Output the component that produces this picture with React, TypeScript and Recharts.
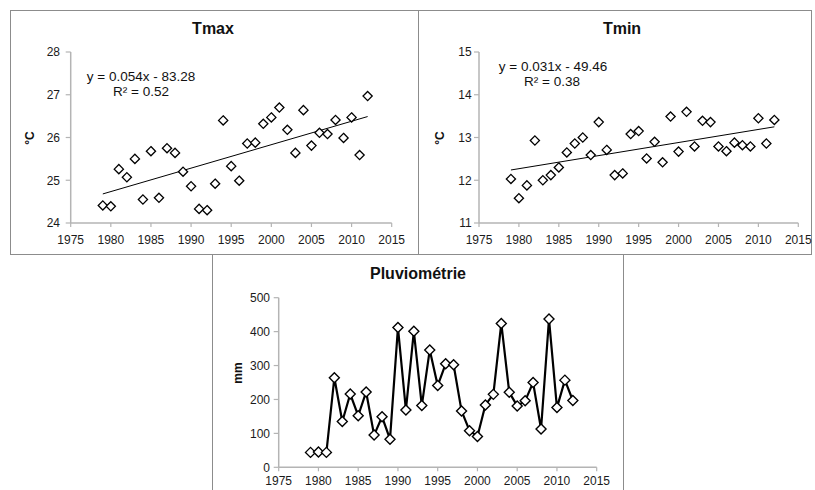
import React from "react";
import {
  ScatterChart,
  Scatter,
  ComposedChart,
  Line,
  XAxis,
  YAxis,
  ReferenceLine,
} from "recharts";

const years = [
  1979, 1980, 1981, 1982, 1983, 1984, 1985, 1986, 1987, 1988, 1989, 1990,
  1991, 1992, 1993, 1994, 1995, 1996, 1997, 1998, 1999, 2000, 2001, 2002,
  2003, 2004, 2005, 2006, 2007, 2008, 2009, 2010, 2011, 2012,
];
const tmax = [
  24.41, 24.39, 25.26, 25.07, 25.5, 24.55, 25.68, 24.59, 25.75, 25.64, 25.2,
  24.86, 24.33, 24.3, 24.92, 26.4, 25.33, 24.99, 25.86, 25.88, 26.32, 26.47,
  26.7, 26.18, 25.64, 26.64, 25.81, 26.11, 26.08, 26.41, 25.99, 26.47, 25.59,
  26.97,
];
const tmin = [
  12.03, 11.58, 11.88, 12.93, 12.0, 12.12, 12.3, 12.65, 12.86, 13.0, 12.59,
  13.36, 12.71, 12.12, 12.16, 13.08, 13.15, 12.51, 12.9, 12.42, 13.49, 12.67,
  13.6, 12.79, 13.39, 13.36, 12.79, 12.68, 12.88, 12.82, 12.79, 13.45, 12.86,
  13.41,
];
const pluie = [
  44, 45, 44, 264, 135, 216, 152, 222, 95, 149, 83, 412, 169, 401, 182, 346,
  241, 305, 302, 166, 108, 91, 184, 215, 424, 221, 181, 196, 250, 113, 437, 176,
  257, 197,
];
const trendYears = [1979, 2012];
const tmaxTrend = [24.68, 26.49];
const tminTrend = [12.24, 13.25];

const xTicks = [1975, 1980, 1985, 1990, 1995, 2000, 2005, 2010, 2015];
const tmaxTicks = [24, 25, 26, 27, 28];
const tminTicks = [11, 12, 13, 14, 15];
const pluieTicks = [0, 100, 200, 300, 400, 500];

const FONT = "'Liberation Sans', Arial, sans-serif";
const AXIS = "#b4b4b4";
const BORDER = "#8c8c8c";

const tmaxData = years.map((y, i) => ({ year: y, v: tmax[i] }));
const tminData = years.map((y, i) => ({ year: y, v: tmin[i] }));
const pluieData = years.map((y, i) => ({ year: y, v: pluie[i] }));

const Diamond = (props: any) => {
  const { cx, cy } = props;
  if (cx == null || cy == null) return null;
  const r = 4.6;
  return (
    <polygon
      points={`${cx},${cy - r} ${cx + r},${cy} ${cx},${cy + r} ${cx - r},${cy}`}
      fill="#fff"
      stroke="#000"
      strokeWidth={1.3}
    />
  );
};

const LineDiamond = (props: any) => {
  const { cx, cy, index } = props;
  if (cx == null || cy == null) return null;
  const r = 5;
  return (
    <polygon
      key={`d${index}`}
      points={`${cx},${cy - r} ${cx + r},${cy} ${cx},${cy + r} ${cx - r},${cy}`}
      fill="#fff"
      stroke="#000"
      strokeWidth={1.4}
    />
  );
};

const tickStyle = { fill: "#1a1a1a", fontSize: 12, fontFamily: FONT };

const Text = ({
  x,
  y,
  children,
  size = 12,
  bold = false,
  rotate = false,
}: any) => (
  <div
    style={{
      position: "absolute",
      left: x,
      top: y,
      transform: `translate(-50%, -50%)${rotate ? " rotate(-90deg)" : ""}`,
      fontFamily: FONT,
      fontSize: size,
      fontWeight: bold ? "bold" : "normal",
      color: "#111",
      whiteSpace: "nowrap",
      lineHeight: 1,
    }}
  >
    {children}
  </div>
);

const Box = ({ left, top, width, height }: any) => (
  <div
    style={{
      position: "absolute",
      left,
      top,
      width,
      height,
      border: `1.5px solid ${BORDER}`,
      boxSizing: "border-box",
    }}
  />
);

const TempChart = ({ data, ticks, domain, trend, left, width, mLeft, mRight, yMargin }: any) => (
  <div style={{ position: "absolute", left, top: 10 }}>
    <ScatterChart
      width={width}
      height={245}
      margin={{ top: 42, right: mRight, bottom: 12, left: mLeft }}
    >
      <XAxis
        type="number"
        dataKey="year"
        domain={[1975, 2015]}
        ticks={xTicks}
        interval={0}
        tick={tickStyle}
        tickSize={4}
        tickMargin={8}
        height={20}
        axisLine={{ stroke: AXIS, strokeWidth: 1.5 }}
        tickLine={{ stroke: AXIS, strokeWidth: 1.2 }}
      />
      <YAxis
        type="number"
        dataKey="v"
        domain={domain}
        ticks={ticks}
        interval={0}
        tick={tickStyle}
        tickSize={5}
        tickMargin={yMargin}
        width={40}
        axisLine={{ stroke: AXIS, strokeWidth: 1.5 }}
        tickLine={{ stroke: AXIS, strokeWidth: 1.2 }}
      />
      <ReferenceLine
        segment={[
          { x: trendYears[0], y: trend[0] },
          { x: trendYears[1], y: trend[1] },
        ]}
        stroke="#000"
        strokeWidth={1}
        ifOverflow="visible"
      />
      <Scatter data={data} shape={<Diamond />} isAnimationActive={false} />
    </ScatterChart>
  </div>
);

export default function App() {
  return (
    <div
      style={{
        position: "absolute",
        left: 0,
        top: 0,
        width: 815,
        height: 490,
        background: "#fff",
        overflow: "hidden",
      }}
    >
      <Box left={10} top={10} width={409} height={245} />
      <Box left={418} top={10} width={394} height={245} />
      <Box left={212} top={254} width={412} height={250} />

      <TempChart
        data={tmaxData}
        ticks={tmaxTicks}
        domain={[24, 28]}
        trend={tmaxTrend}
        left={10}
        width={408}
        mLeft={20.7}
        mRight={26.3}
        yMargin={5.7}
      />
      <TempChart
        data={tminData}
        ticks={tminTicks}
        domain={[11, 15]}
        trend={tminTrend}
        left={418}
        width={394}
        mLeft={21}
        mRight={13.7}
        yMargin={2.3}
      />

      <div style={{ position: "absolute", left: 212, top: 255 }}>
        <ComposedChart
          width={411}
          height={235}
          data={pluieData}
          margin={{ top: 42.7, right: 26.3, bottom: 2.7, left: 26.7 }}
        >
          <XAxis
            type="number"
            dataKey="year"
            domain={[1975, 2015]}
            ticks={xTicks}
            interval={0}
            tick={tickStyle}
            tickSize={4}
            tickMargin={5}
            height={20}
            axisLine={{ stroke: AXIS, strokeWidth: 1.5 }}
            tickLine={{ stroke: AXIS, strokeWidth: 1.2 }}
          />
          <YAxis
            type="number"
            domain={[0, 500]}
            ticks={pluieTicks}
            interval={0}
            tick={tickStyle}
            tickSize={5}
            tickMargin={3.7}
            width={40}
            axisLine={{ stroke: AXIS, strokeWidth: 1.5 }}
            tickLine={{ stroke: AXIS, strokeWidth: 1.2 }}
          />
          <Line
            type="linear"
            dataKey="v"
            stroke="#000"
            strokeWidth={2.2}
            dot={<LineDiamond />}
            activeDot={false}
            isAnimationActive={false}
          />
        </ComposedChart>
      </div>

      <Text x={213} y={29} size={16} bold>
        Tmax
      </Text>
      <Text x={622} y={29} size={16} bold>
        Tmin
      </Text>
      <Text x={418} y={274} size={16} bold>
        Pluviométrie
      </Text>

      <Text x={30} y={138} bold rotate>
        °C
      </Text>
      <Text x={440} y={138} bold rotate>
        °C
      </Text>
      <Text x={238} y={373} bold rotate>
        mm
      </Text>

      <Text x={141} y={77} size={13.5}>
        y = 0.054x - 83.28
      </Text>
      <Text x={141} y={92} size={13.5}>
        R² = 0.52
      </Text>
      <Text x={553} y={67} size={13.5}>
        y = 0.031x - 49.46
      </Text>
      <Text x={552} y={82} size={13.5}>
        R² = 0.38
      </Text>
    </div>
  );
}
